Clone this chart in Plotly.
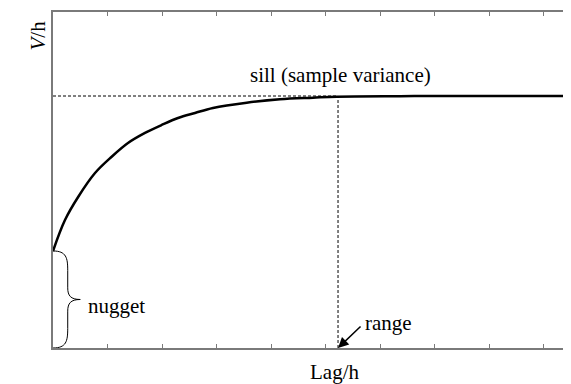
import plotly.graph_objects as go

# ---- data ----
lag = [0.0, 0.22, 0.464, 0.771, 1.077, 1.376, 1.688, 1.994, 2.294, 2.606,
       2.936, 3.554, 4.165, 4.771, 5.206, 6.37, 7.5, 8.5, 9.6]
semivar = [1.155, 1.524, 1.801, 2.083, 2.277, 2.440, 2.560, 2.655, 2.738, 2.798,
           2.857, 2.920, 2.961, 2.980, 2.992, 2.998, 3.0, 3.0, 3.0]
nugget = 1.155
sill = 3.0
range_lag = 5.23
x_ticks = [1, 2, 3, 4, 5, 6, 7, 8, 9]

FONT = "Liberation Serif"
AX = "#7a7a7a"

fig = go.Figure()

# sill dashed line
fig.add_trace(go.Scatter(x=[0, range_lag], y=[sill, sill], mode="lines",
                         line=dict(color="black", width=1, dash="3px,2px"),
                         hoverinfo="skip", showlegend=False))
# range dashed line
fig.add_trace(go.Scatter(x=[range_lag, range_lag], y=[0, sill], mode="lines",
                         line=dict(color="black", width=1, dash="3px,2px"),
                         hoverinfo="skip", showlegend=False))
# variogram curve
fig.add_trace(go.Scatter(x=lag, y=semivar, mode="lines",
                         line=dict(color="black", width=2.5, shape="spline"),
                         showlegend=False))

# curly brace for nugget (data units)
h = nugget
bx = 0.27   # bulge x
tx = 0.5    # tip x
path = (f"M 0,{h} C {bx*0.9},{h} {bx},{h*0.93} {bx},{h*0.8} "
        f"L {bx},{h*0.62} C {bx},{h*0.54} {bx*1.2},{h*0.5} {tx},{h*0.5} "
        f"C {bx*1.2},{h*0.5} {bx},{h*0.46} {bx},{h*0.38} "
        f"L {bx},{h*0.2} C {bx},{h*0.07} {bx*0.9},0 0,0")
fig.add_shape(type="path", path=path, xref="x", yref="y",
              line=dict(color="black", width=1))

fig.add_annotation(x=5.27, y=3.25, text="sill (sample variance)", showarrow=False,
                   font=dict(family=FONT, size=21, color="black"))
fig.add_annotation(x=1.17, y=0.50, text="nugget", showarrow=False,
                   font=dict(family=FONT, size=21, color="black"))
# range arrow
fig.add_annotation(x=range_lag, y=0, text="", showarrow=True,
                   ax=24, ay=-23, axref="pixel", ayref="pixel",
                   arrowhead=2, arrowsize=1.4, arrowwidth=1.5, arrowcolor="black")
fig.add_annotation(x=(388 - 53) / 54.5, y=0.30, text="range", showarrow=False,
                   font=dict(family=FONT, size=21, color="black"))
fig.add_annotation(x=5.17, y=0, yref="paper", yshift=-24, yanchor="middle",
                   text="Lag/h", showarrow=False,
                   font=dict(family=FONT, size=21, color="black"))
fig.add_annotation(x=0, xref="paper", xshift=-29, y=3.72, text="<i>V</i>/h",
                   textangle=-90, showarrow=False,
                   font=dict(family=FONT, size=21, color="black"))

fig.update_xaxes(range=[0, 518 / 54.5], showline=True, linecolor=AX, linewidth=1.5,
                 mirror="ticks", ticks="inside", ticklen=4, tickcolor=AX, tickwidth=1,
                 tickvals=x_ticks, showticklabels=False, showgrid=False, zeroline=False)
fig.update_yaxes(range=[0, 4], showline=True, linecolor=AX, linewidth=1.5,
                 ticks="", showticklabels=False, showgrid=False, zeroline=False)

# page body has an 8px margin: compensate so the plot area matches the reference
fig.update_layout(width=563, height=376, margin=dict(l=45, r=0, t=4, b=36),
                  plot_bgcolor="white", paper_bgcolor="white")

fig.write_html("out.html")
